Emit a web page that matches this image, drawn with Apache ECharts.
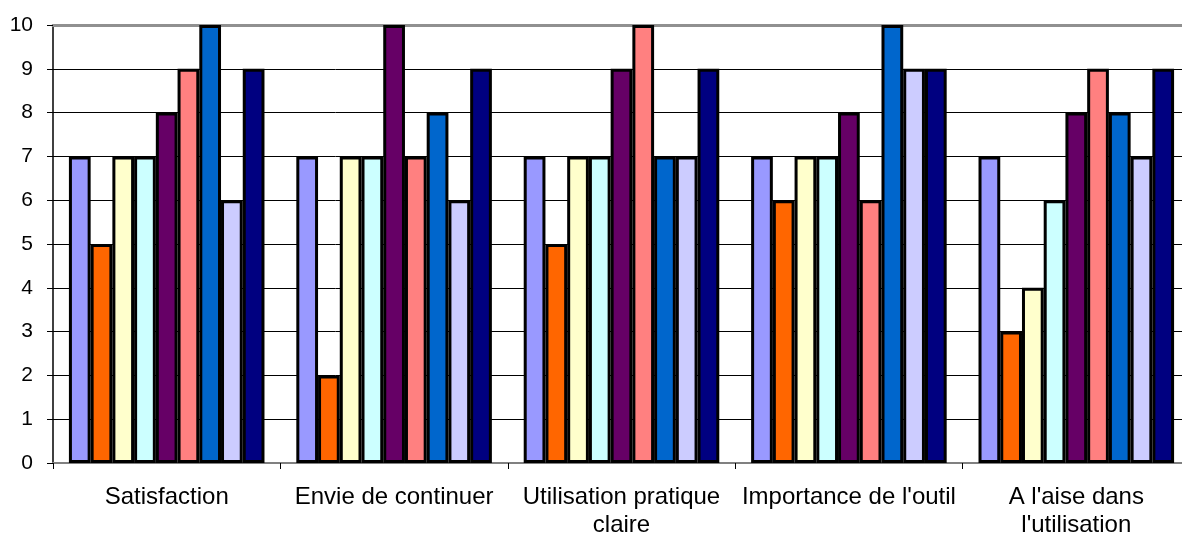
<!DOCTYPE html>
<html>
<head>
<meta charset="utf-8">
<script src="https://cdn.jsdelivr.net/npm/echarts@6/dist/echarts.min.js"></script>
<style>
  html, body { margin: 0; padding: 0; background: #fff; }
  #chart { width: 1182px; height: 536px; }
</style>
</head>
<body>
<div id="chart"></div>
<script>
// Survey criteria (x categories), wrapped as printed under the axis
const categories = [
  'Satisfaction',
  'Envie de continuer',
  'Utilisation pratique\nclaire',
  "Importance de l'outil",
  "A l'aise dans\nl'utilisation"
];

// Scores of the nine respondents, one array per respondent
const respondent1 = [7, 7, 7, 7, 7];
const respondent2 = [5, 2, 5, 6, 3];
const respondent3 = [7, 7, 7, 7, 4];
const respondent4 = [7, 7, 7, 7, 6];
const respondent5 = [8, 10, 9, 8, 8];
const respondent6 = [9, 7, 10, 6, 9];
const respondent7 = [10, 8, 7, 10, 8];
const respondent8 = [6, 6, 7, 9, 7];
const respondent9 = [9, 9, 9, 9, 9];

const seriesValues = [
  respondent1, respondent2, respondent3, respondent4, respondent5,
  respondent6, respondent7, respondent8, respondent9
];

// Classic office chart palette
const palette = ['#9999FF', '#FF6600', '#FFFFCC', '#CCFFFF', '#660066',
                 '#FF8080', '#0066CC', '#CCCCFF', '#000080'];

// Value axis ticks 0..10
const yTicks = { min: 0, max: 10, interval: 1 };

const font = 'Arial, "Liberation Sans", sans-serif';

const chart = echarts.init(document.getElementById('chart'), null, { renderer: 'canvas' });

chart.setOption({
  animation: false,
  backgroundColor: '#ffffff',
  grid: {
    left: 53, right: -8, top: 25, bottom: 73,
    containLabel: false, outerBoundsMode: 'none'
  },
  xAxis: [
    {
      type: 'category',
      data: categories,
      position: 'bottom',
      axisLine: { show: true, lineStyle: { color: '#808080', width: 2 } },
      axisTick: { show: true, length: 6, alignWithLabel: false, lineStyle: { color: '#000', width: 1 } },
      axisLabel: {
        color: '#000', fontFamily: font, fontSize: 24, margin: 20,
        lineHeight: 28, interval: 0
      },
      splitLine: { show: false }
    },
    {
      // top frame line of the plot area
      type: 'category',
      data: categories,
      position: 'top',
      axisLine: { show: true, lineStyle: { color: '#909090', width: 3 } },
      axisTick: { show: false },
      axisLabel: { show: false }
    }
  ],
  yAxis: {
    type: 'value',
    min: yTicks.min,
    max: yTicks.max,
    interval: yTicks.interval,
    axisLine: { show: true, lineStyle: { color: '#000', width: 1.5 } },
    axisTick: { show: true, length: 6, lineStyle: { color: '#000', width: 1 } },
    axisLabel: { color: '#000', fontFamily: font, fontSize: 21, margin: 20 },
    splitLine: { show: true, lineStyle: { color: '#000', width: 1 } }
  },
  series: seriesValues.map((vals, i) => ({
    type: 'bar',
    data: vals,
    xAxisIndex: 0,
    barGap: '0%',
    barCategoryGap: '14%',
    itemStyle: { color: palette[i], borderColor: '#000', borderWidth: 3 }
  }))
});
</script>
</body>
</html>
